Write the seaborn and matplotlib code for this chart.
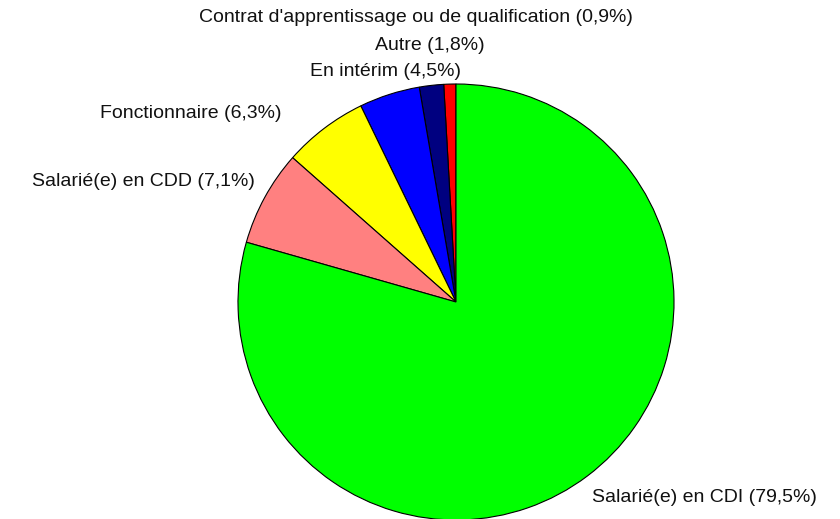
import matplotlib
matplotlib.use("Agg")
import matplotlib.pyplot as plt
import seaborn as sns

# Data (counter-clockwise from the top)
labels = ["Contrat d'apprentissage ou de qualification", "Autre", "En intérim",
          "Fonctionnaire", "Salarié(e) en CDD", "Salarié(e) en CDI"]
values = [0.9, 1.8, 4.5, 6.3, 7.1, 79.5]
colors = ["#FF0000", "#000080", "#0000FF", "#FFFF00", "#FF8080", "#00FF00"]

sns.set_theme(style="white")
plt.rcParams["font.family"] = ["Liberation Sans", "DejaVu Sans"]

fig = plt.figure(figsize=(8.4, 5.19), dpi=100)
ax = fig.add_axes([238 / 840, (519 - 520) / 519, 436 / 840, 436 / 519])
ax.pie(values, colors=colors, startangle=90, counterclock=True,
       wedgeprops=dict(edgecolor="black", linewidth=0.8))
ax.set_xlim(-1, 1)
ax.set_ylim(-1, 1)
ax.set_aspect("equal")
for p in ax.patches:
    p.set_clip_on(False)

# label positions in pixels (x, y, ha)
pos = [(416, 18, "center"), (430, 46, "center"), (386, 72, "center"),
       (281, 113, "right"), (255, 181, "right"), (592, 497, "left")]
for lab, v, (px, py, ha) in zip(labels, values, pos):
    txt = f"{lab} ({str(v).replace('.', ',')}%)"
    fig.text(px / 840, 1 - py / 519, txt, ha=ha, va="center", fontsize=14, color="#111111")

fig.savefig("out.png", dpi=100)
